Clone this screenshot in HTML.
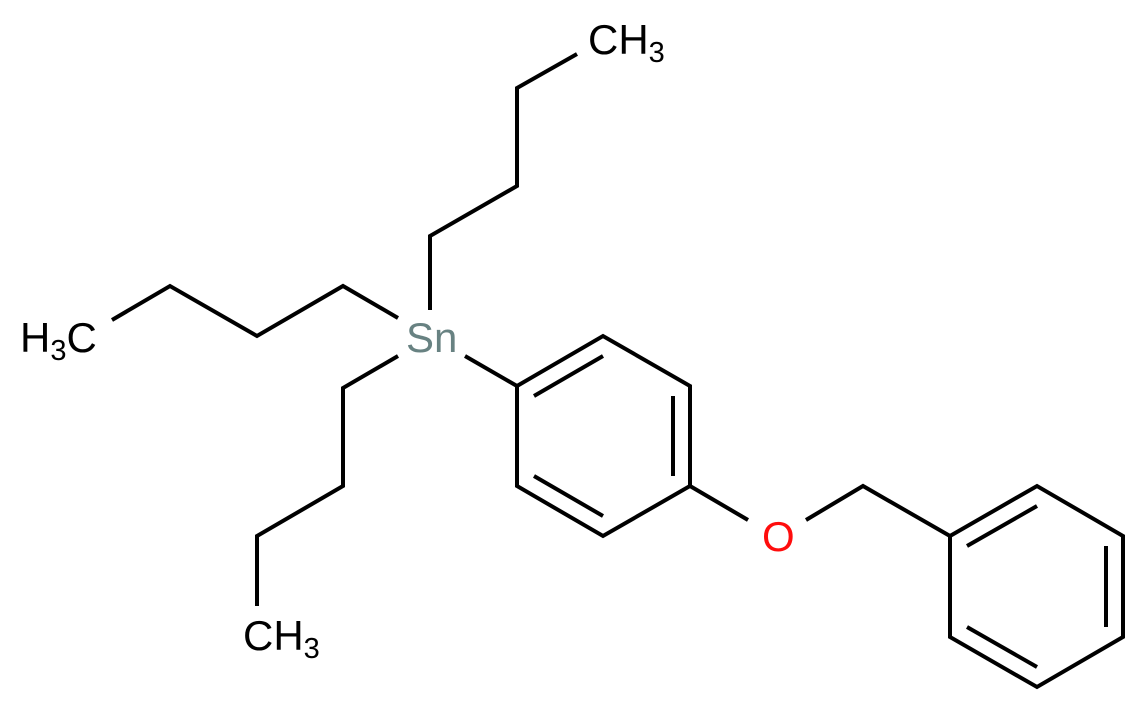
<!DOCTYPE html>
<html><head><style>body{margin:0;background:#fff}svg{display:block}</style></head><body>
<svg width="1147" height="711" viewBox="0 0 1147 711" xmlns="http://www.w3.org/2000/svg">
<g stroke="#000" stroke-width="4" fill="none" stroke-linecap="butt">
<polyline points="577,54 517,88 517,186 430,236 430,310"/>
<polyline points="112,320 170,286 257,336 343,286 398,318"/>
<polyline points="398,356 343,388 343,486 257,536 257,606"/>
<line x1="465" y1="356" x2="517" y2="386"/>
<polygon points="517,386 603,336 690,386 690,486 603,536 517,486"/>
<line x1="534" y1="396" x2="603" y2="356"/>
<line x1="673" y1="396" x2="673" y2="476"/>
<line x1="534" y1="476" x2="603" y2="516"/>
<polyline points="690,486 748,520"/>
<polyline points="806,520 863,486 950,536"/>
<polygon points="950,536 1037,486 1123,536 1123,637 1037,687 950,637"/>
<line x1="967" y1="546" x2="1037" y2="506"/>
<line x1="1106" y1="546" x2="1106" y2="627"/>
<line x1="967" y1="627" x2="1037" y2="667"/>
</g>
<g font-family="Liberation Sans, sans-serif" font-size="42">
<text x="588" y="54">CH<tspan font-size="29" dy="8">3</tspan></text>
<text x="20" y="352">H<tspan font-size="29" dy="8">3</tspan><tspan dy="-8">C</tspan></text>
<text x="243" y="650">CH<tspan font-size="29" dy="8">3</tspan></text>
<text x="406" y="352" fill="#688282">Sn</text>
<text x="762" y="551" fill="#ff0d0d">O</text>
</g>
</svg>
</body></html>
